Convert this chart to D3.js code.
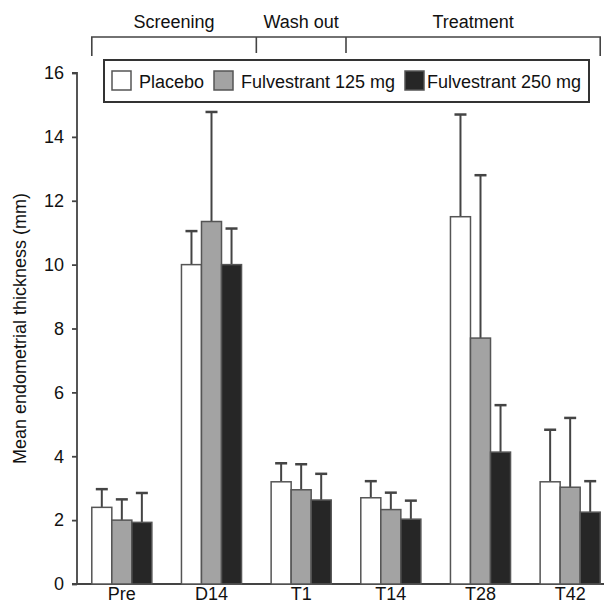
<!DOCTYPE html>
<html>
<head>
<meta charset="utf-8">
<script src="https://cdn.jsdelivr.net/npm/d3@7"></script>
<style>
  body { margin: 0; background: #fff; }
  text { font-family: "Liberation Sans", Arial, sans-serif; fill: #111; }
</style>
</head>
<body>
<script>
const width = 604, height = 604;

// data
const categories = ["Pre", "D14", "T1", "T14", "T28", "T42"];
const series = ["Placebo", "Fulvestrant 125 mg", "Fulvestrant 250 mg"];
const placebo   = [2.4, 10.0, 3.2, 2.7, 11.5, 3.2];
const fulv125   = [2.0, 11.35, 2.95, 2.33, 7.7, 3.03];
const fulv250   = [1.93, 10.0, 2.63, 2.03, 4.13, 2.25];
const placeboSD = [0.57, 1.05, 0.58, 0.52, 3.2, 1.63];
const fulv125SD = [0.65, 3.43, 0.8, 0.53, 5.1, 2.17];
const fulv250SD = [0.92, 1.13, 0.82, 0.58, 1.47, 0.97];
const yTicks = [0, 2, 4, 6, 8, 10, 12, 14, 16];
const phases = ["Screening", "Wash out", "Treatment"];
const phaseFirst = ["Pre", "T1", "T14"];
const phaseLast = ["D14", "T1", "T42"];

const values = [placebo, fulv125, fulv250];
const errors = [placeboSD, fulv125SD, fulv250SD];
const fills = ["#ffffff", "#a3a3a3", "#262626"];

const svg = d3.select("body").append("svg")
  .attr("width", width)
  .attr("height", height);

const x = d3.scaleBand().domain(categories).range([77, 615])
  .paddingInner(0.33).paddingOuter(0.165);
const xs = d3.scaleBand().domain(series).range([0, x.bandwidth()]);
const y = d3.scaleLinear().domain([0, 16]).range([584, 73]);

// y axis
const yAxis = svg.append("g")
  .attr("transform", "translate(77,0)")
  .call(d3.axisLeft(y).tickValues(yTicks).tickSize(5).tickPadding(8).tickFormat(d3.format("d")));
yAxis.select(".domain").attr("stroke", "#444").attr("stroke-width", 1.8).attr("d", "M-5," + y(16) + "H0V" + y(0));
yAxis.selectAll(".tick line").attr("stroke", "#444").attr("stroke-width", 1.8);
yAxis.selectAll(".tick text").style("font-size", "18px").attr("fill", "#111");

// baseline
svg.append("line")
  .attr("x1", 72).attr("x2", width)
  .attr("y1", y(0)).attr("y2", y(0))
  .attr("stroke", "#444").attr("stroke-width", 1.8);

// category labels
svg.selectAll(".cat").data(categories).join("text")
  .attr("class", "cat")
  .attr("x", d => x(d) + x.bandwidth() / 2)
  .attr("y", 600)
  .attr("text-anchor", "middle")
  .style("font-size", "18px")
  .text(d => d);

// y title
svg.append("text")
  .attr("transform", "translate(26," + ((y(0) + y(16)) / 2) + ") rotate(-90)")
  .attr("text-anchor", "middle")
  .style("font-size", "18px")
  .text("Mean endometrial thickness (mm)");

// bars and error bars
series.forEach((s, si) => {
  const g = svg.append("g");
  categories.forEach((c, ci) => {
    const v = values[si][ci], e = errors[si][ci];
    const bx = x(c) + xs(s);
    const cx = bx + xs.bandwidth() / 2;
    g.append("line")
      .attr("x1", cx).attr("x2", cx)
      .attr("y1", y(v)).attr("y2", y(v + e))
      .attr("stroke", "#444").attr("stroke-width", 2);
    g.append("line")
      .attr("x1", cx - 6).attr("x2", cx + 6)
      .attr("y1", y(v + e)).attr("y2", y(v + e))
      .attr("stroke", "#444").attr("stroke-width", 2.5);
    g.append("rect")
      .attr("x", bx).attr("y", y(v))
      .attr("width", xs.bandwidth()).attr("height", y(0) - y(v))
      .attr("fill", fills[si])
      .attr("stroke", "#555").attr("stroke-width", 1.5);
  });
});

// phase brackets
const bTop = 37;
const leftEdge = x(categories[0]);
const rightEdge = x(categories[categories.length - 1]) + x.bandwidth();
const bounds = phases.map((p, i) => {
  const a = i === 0 ? leftEdge : (x(phaseLast[i - 1]) + x.bandwidth() + x(phaseFirst[i])) / 2;
  const b = i === phases.length - 1 ? rightEdge : (x(phaseLast[i]) + x.bandwidth() + x(phaseFirst[i + 1])) / 2;
  return [a, b];
});
svg.append("path")
  .attr("d", "M" + leftEdge + ",56V" + bTop + "H" + rightEdge + "V56")
  .attr("fill", "none").attr("stroke", "#444").attr("stroke-width", 1.6);
bounds.slice(1).forEach(b => {
  svg.append("line")
    .attr("x1", b[0]).attr("x2", b[0])
    .attr("y1", bTop).attr("y2", 53)
    .attr("stroke", "#444").attr("stroke-width", 1.6);
});
svg.selectAll(".phase").data(phases).join("text")
  .attr("class", "phase")
  .attr("x", (d, i) => (bounds[i][0] + bounds[i][1]) / 2)
  .attr("y", 28)
  .attr("text-anchor", "middle")
  .style("font-size", "18px")
  .text(d => d);

// legend
const lg = svg.append("g");
lg.append("rect")
  .attr("x", 104).attr("y", 60).attr("width", 485).attr("height", 42)
  .attr("fill", "#fff").attr("stroke", "#333").attr("stroke-width", 2);
const legX = [112, 214, 405];
series.forEach((s, i) => {
  lg.append("rect")
    .attr("x", legX[i]).attr("y", 71).attr("width", 19).attr("height", 19)
    .attr("fill", fills[i]).attr("stroke", "#555").attr("stroke-width", 1.5);
  lg.append("text")
    .attr("x", legX[i] + (i === 2 ? 22 : 27)).attr("y", 88)
    .style("font-size", "18px")
    .text(s);
});
</script>
</body>
</html>
